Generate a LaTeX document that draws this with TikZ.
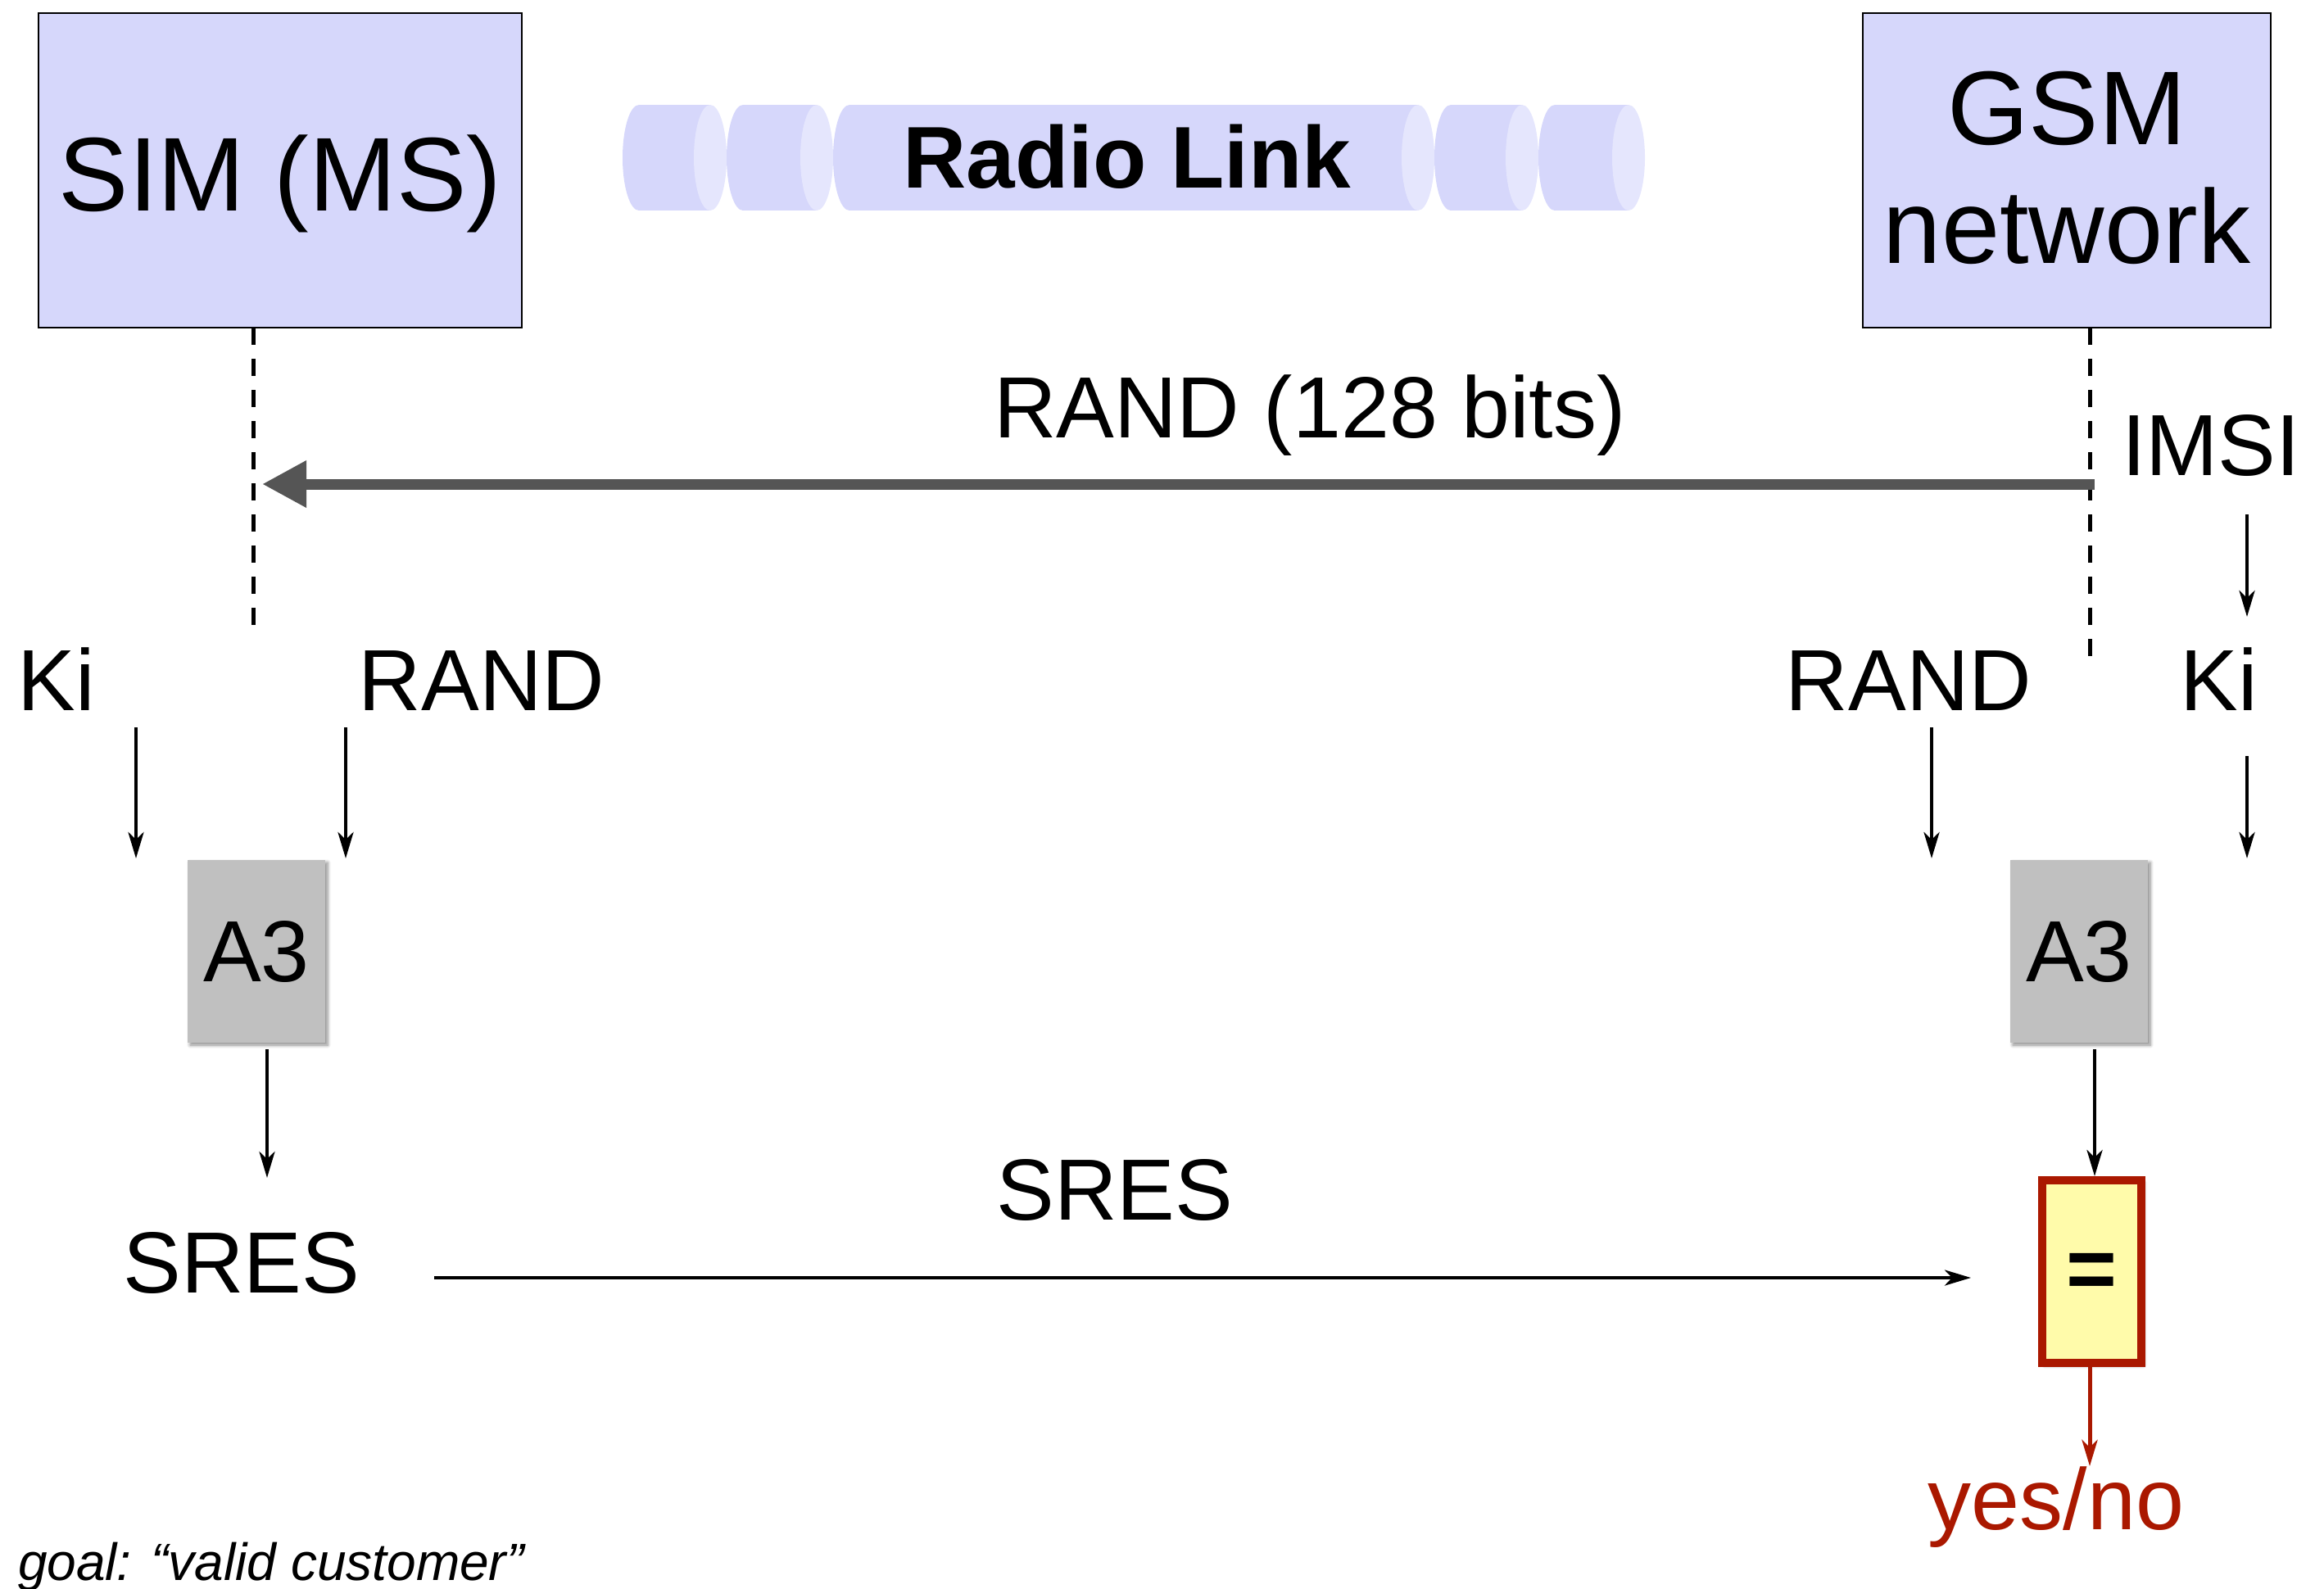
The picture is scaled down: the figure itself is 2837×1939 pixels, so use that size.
\documentclass[tikz,border=0pt]{standalone}
\usepackage{fontspec}
\setmainfont{Liberation Sans}
\usetikzlibrary{arrows.meta,shadows.blur}

\definecolor{boxblue}{RGB}{214,215,251}
\definecolor{capblue}{RGB}{229,230,253}
\definecolor{a3gray}{RGB}{192,192,192}
\definecolor{eqfill}{RGB}{255,251,170}
\definecolor{eqred}{RGB}{170,24,0}
\definecolor{linkgray}{RGB}{85,85,85}

\tikzset{
  every node/.style={inner sep=0pt, outer sep=0pt},
  entity/.style={draw=black, line width=2.5pt, fill=boxblue},
  bigtext/.style={font=\fontsize{128}{145}\selectfont},
  lbl/.style={anchor=base, font=\fontsize{106}{106}\selectfont},
  flow/.style={line width=4.5pt, -{Stealth[length=32pt,width=19pt,inset=9pt]}},
  lifeline/.style={line width=5pt, dash pattern=on 21pt off 17pt},
  algo/.style={fill=a3gray, minimum width=168pt, minimum height=223pt,
    font=\fontsize{106}{106}\selectfont,
    blur shadow={shadow xshift=3pt, shadow yshift=-3pt, shadow blur radius=4pt, shadow blur steps=6, shadow opacity=45}},
  compare/.style={draw=eqred, line width=10pt, fill=eqfill, minimum width=121pt, minimum height=223pt,
    font=\bfseries\fontsize{106}{106}\selectfont, text height=66pt, text depth=0pt,
    blur shadow={shadow xshift=3pt, shadow yshift=-3pt, shadow blur radius=4pt, shadow blur steps=6, shadow opacity=45}},
}

\begin{document}
\begin{tikzpicture}[x=1pt,y=-1pt]
\useasboundingbox (0,0) rectangle (2837,1939);

% radio link: a row of horizontal cylinders
\foreach \l/\r in {760/887,887/1017,1017/1751,1751/1878,1878/2008}{
  \fill[boxblue] (\l+20,192.5) ellipse [x radius=20, y radius=64.5];
  \fill[boxblue] (\l+20,128) rectangle (\r-20,257);
  \fill[capblue] (\r-20,192.5) ellipse [x radius=20, y radius=64.5];
}
\node[anchor=base, font=\bfseries\fontsize{107}{107}\selectfont] (radio) at (1376,229) {Radio Link};

% the two parties
\node[entity, minimum width=590pt, minimum height=384pt] (sim) at (342,208) {};
\node[bigtext, anchor=base] (simtxt) at (342,257) {SIM (MS)};
\node[entity, minimum width=498pt, minimum height=384pt] (gsm) at (2523,208) {};
\node[bigtext, align=center, anchor=north] (gsmtxt) at (2523,87) {GSM\\network};

% lifelines
\coordinate (simlife) at (309,769);
\coordinate (gsmlife) at (2551,802);
\draw[lifeline] (sim.south -| simlife) -- (simlife);
\draw[lifeline] (gsm.south -| gsmlife) -- (gsmlife);

% challenge sent over the air
\coordinate (randsrc) at (2557,591);
\coordinate (randdst) at (320,591);
\draw[line width=13pt, linkgray, -{Triangle[length=54pt,width=54pt]}] (randsrc) -- (randdst);
\node[lbl] (randbits) at (1599,534) {RAND (128 bits)};

% network side: key lookup
\node[lbl] (imsi) at (2699,580) {IMSI};
\coordinate (imsi-a) at (2743,628);
\coordinate (imsi-b) at (2743,753);
\draw[flow] (imsi-a) -- (imsi-b);

% inputs of A3
\node[lbl] (kiL) at (69,867) {Ki};
\node[lbl] (randL) at (588,867) {RAND};
\node[lbl] (randR) at (2330,867) {RAND};
\node[lbl] (kiR) at (2709,867) {Ki};

\coordinate (kiL-a) at (166,888);    \coordinate (kiL-b) at (166,1048);
\coordinate (randL-a) at (422,888);  \coordinate (randL-b) at (422,1048);
\coordinate (randR-a) at (2358,888); \coordinate (randR-b) at (2358,1048);
\coordinate (kiR-a) at (2743,923);   \coordinate (kiR-b) at (2743,1048);
\draw[flow] (kiL-a) -- (kiL-b);
\draw[flow] (randL-a) -- (randL-b);
\draw[flow] (randR-a) -- (randR-b);
\draw[flow] (kiR-a) -- (kiR-b);

% A3 blocks
\node[algo] (a3L) at (313,1161.5) {A3};
\node[algo] (a3R) at (2538,1161.5) {A3};

% SIM side result
\coordinate (a3L-out) at (326,1281);
\coordinate (sresL-in) at (326,1438);
\draw[flow] (a3L-out) -- (sresL-in);
\node[lbl] (sresL) at (295,1578) {SRES};

% response sent back and compared
\coordinate (sres-a) at (530,1560);
\coordinate (sres-b) at (2406,1560);
\draw[flow] (sres-a) -- (sres-b);
\node[lbl] (sresM) at (1361,1489) {SRES};

\node[compare] (eq) at (2553.5,1552.5) {=};
\coordinate (a3R-out) at (2557,1281);
\coordinate (eq-in) at (2557,1436);
\draw[flow] (a3R-out) -- (eq-in);

\coordinate (eq-out) at (2551,1669);
\coordinate (verdict-in) at (2551,1790);
\draw[flow, line width=5pt, eqred] (eq-out) -- (verdict-in);
\node[lbl, text=eqred] (verdict) at (2510,1867) {yes/no};

\node[anchor=base west, font=\itshape\fontsize{64}{64}\selectfont] (goal) at (22,1929) {goal: “valid customer”};
\end{tikzpicture}
\end{document}
